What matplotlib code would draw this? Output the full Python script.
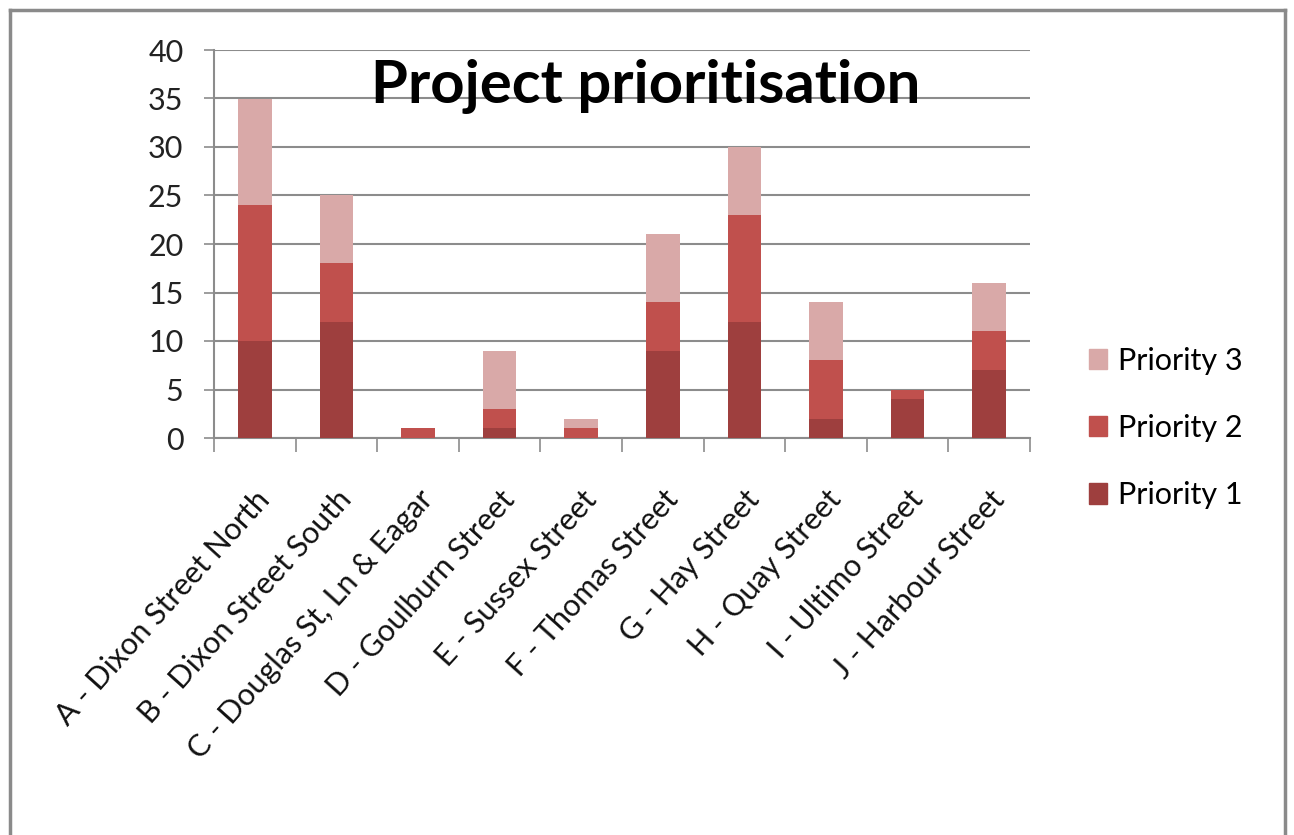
import matplotlib
matplotlib.use("Agg")
import matplotlib.pyplot as plt
from matplotlib.lines import Line2D
from matplotlib.patches import Patch
import numpy as np

categories = ["A - Dixon Street North", "B - Dixon Street South", "C - Douglas St, Ln & Eagar",
              "D - Goulburn Street", "E - Sussex Street", "F - Thomas Street", "G - Hay Street",
              "H - Quay Street", "I - Ultimo Street", "J - Harbour Street"]
priority1 = [10, 12, 0, 1, 0, 9, 12, 2, 4, 7]
priority2 = [14, 6, 1, 2, 1, 5, 11, 6, 1, 4]
priority3 = [11, 7, 0, 6, 1, 7, 7, 6, 0, 5]
yticks = [0, 5, 10, 15, 20, 25, 30, 35, 40]

c1, c2, c3 = "#9E3F3E", "#C0504D", "#D9A9A8"
font = "Lato"
plt.rcParams['font.family'] = [font, 'DejaVu Sans']

fig = plt.figure(figsize=(12.94, 8.35), dpi=100)
ax = fig.add_axes([214/1294, 1-438/835, (1030-214)/1294, (438-50)/835])

x = np.arange(len(categories))
p1 = np.array(priority1); p2 = np.array(priority2); p3 = np.array(priority3)
w = 0.41
ax.bar(x, p1, w, color=c1, zorder=3)
ax.bar(x, p2, w, bottom=p1, color=c2, zorder=3)
ax.bar(x, p3, w, bottom=p1 + p2, color=c3, zorder=3)

ax.set_xlim(-0.5, len(categories) - 0.5)
ax.set_ylim(0, 40)
ax.set_yticks(yticks)
ax.set_yticklabels([str(v) for v in yticks], fontsize=22, color="#222222")
ax.yaxis.grid(True, color="#8c8c8c", linewidth=1.5, zorder=0)
ax.tick_params(axis='y', length=7, width=1.2, color="#8c8c8c", pad=15)

ax.set_xticks(x)
ax.set_xticklabels(categories, rotation=48, ha='right', va='top', rotation_mode='anchor',
                   fontsize=22, color="#111111")
ax.set_xticks(np.arange(-0.5, len(categories) + 0.5, 1), minor=True)
ax.tick_params(axis='x', which='major', length=0, pad=34)
ax.tick_params(axis='x', which='minor', length=10, width=1.2, color="#8c8c8c")

for s in ['top', 'right']:
    ax.spines[s].set_visible(False)
for s in ['left', 'bottom']:
    ax.spines[s].set_color("#8c8c8c")
    ax.spines[s].set_linewidth(1.5)

fig.text(646/1294, 1-86/835, "Project prioritisation", ha='center', va='center',
         fontsize=43, fontweight='bold', color="black")

handles = [Patch(color=c3), Patch(color=c2), Patch(color=c1)]
labels = ["Priority 3", "Priority 2", "Priority 1"]
fig.legend(handles, labels, loc='center left', bbox_to_anchor=(1061/1294, 1-428/835),
           frameon=False, fontsize=22, handlelength=0.6, handleheight=0.65,
           labelspacing=1.28, handletextpad=0.35)

# outer border
bc = "#8a8a8a"
fig.add_artist(Line2D([10/1294, 10/1294], [0, 1-10/835], color=bc, linewidth=2.5))
fig.add_artist(Line2D([10/1294, 1285/1294], [1-10/835, 1-10/835], color=bc, linewidth=2.5))
fig.add_artist(Line2D([1285/1294, 1285/1294], [0, 1-10/835], color=bc, linewidth=2.5))

fig.savefig("out.png", dpi=100, facecolor="white")
